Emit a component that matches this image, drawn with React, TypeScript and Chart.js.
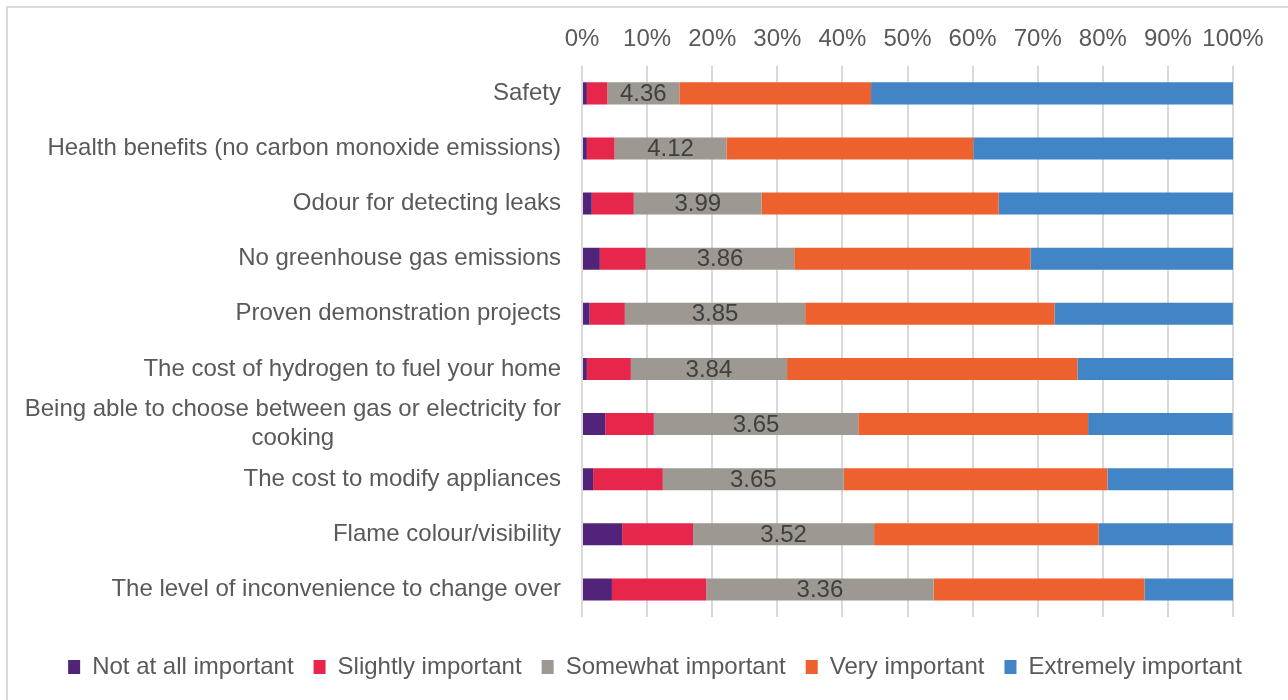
import React, { useEffect, useRef } from "react";
import { Chart, registerables } from "chart.js";

Chart.register(...registerables);

// Survey factors (top to bottom)
const categories: (string | string[])[] = [
  "Safety",
  "Health benefits (no carbon monoxide emissions)",
  "Odour for detecting leaks",
  "No greenhouse gas emissions",
  "Proven demonstration projects",
  "The cost of hydrogen to fuel your home",
  ["Being able to choose between gas or electricity for", "cooking"],
  "The cost to modify appliances",
  "Flame colour/visibility",
  "The level of inconvenience to change over",
];

// Share of respondents (%) per importance rating
const notAtAll = [0.75, 0.75, 1.5, 2.74, 1.17, 0.75, 3.57, 1.71, 6.17, 4.6];
const slightly = [3.15, 4.25, 6.46, 7.06, 5.41, 6.75, 7.47, 10.7, 10.9, 14.5];
const somewhat = [11.05, 17.2, 19.64, 22.8, 27.7, 24.0, 31.4, 27.8, 27.8, 34.9];
const very = [29.45, 37.9, 36.4, 36.3, 38.3, 44.6, 35.3, 40.5, 34.5, 32.4];
const extremely = [55.6, 39.9, 36.0, 31.1, 27.4, 23.9, 22.2, 19.3, 20.6, 13.6];

// Mean importance score (1-5) shown on the "Somewhat important" segment
const meanScores = [4.36, 4.12, 3.99, 3.86, 3.85, 3.84, 3.65, 3.65, 3.52, 3.36];

const seriesNames = [
  "Not at all important",
  "Slightly important",
  "Somewhat important",
  "Very important",
  "Extremely important",
];
const seriesColors = ["#522479", "#E6264A", "#9D9891", "#EC612D", "#4185C6"];
const seriesValues = [notAtAll, slightly, somewhat, very, extremely];

const xTicks = [0, 10, 20, 30, 40, 50, 60, 70, 80, 90, 100];

const FONT = "'Liberation Sans', Arial, sans-serif";
const TEXT = "#595959";

// Category labels drawn right-aligned beside the bars; wrapped lines are centred on the widest line
const categoryLabelPlugin = {
  id: "categoryLabels",
  afterDraw(chart: any) {
    const { ctx, chartArea } = chart;
    const yScale = chart.scales.y;
    const right = chartArea.left - 21;
    const lineH = 29;
    ctx.save();
    ctx.font = `24px ${FONT}`;
    ctx.fillStyle = TEXT;
    ctx.textBaseline = "middle";
    categories.forEach((label, i) => {
      const y = yScale.getPixelForValue(i);
      const lines = Array.isArray(label) ? label : [label];
      if (lines.length === 1) {
        ctx.textAlign = "right";
        ctx.fillText(lines[0], right, y);
      } else {
        const widest = Math.max(...lines.map((l) => ctx.measureText(l).width));
        const cx = right - widest / 2;
        ctx.textAlign = "center";
        const y0 = y - ((lines.length - 1) * lineH) / 2;
        lines.forEach((l, k) => ctx.fillText(l, cx, y0 + k * lineH));
      }
    });
    ctx.restore();
  },
};

// Mean score printed in the middle of the grey segment
const meanLabelPlugin = {
  id: "meanLabels",
  afterDatasetsDraw(chart: any) {
    const { ctx } = chart;
    const meta = chart.getDatasetMeta(2);
    ctx.save();
    ctx.font = `24px ${FONT}`;
    ctx.fillStyle = "#404040";
    ctx.textAlign = "center";
    ctx.textBaseline = "middle";
    meta.data.forEach((bar: any, i: number) => {
      const cx = (bar.x + bar.base) / 2;
      ctx.fillText(meanScores[i].toFixed(2), cx, bar.y + 1);
    });
    ctx.restore();
  },
};

export default function App() {
  const canvasRef = useRef<HTMLCanvasElement | null>(null);

  useEffect(() => {
    if (!canvasRef.current) return;
    Chart.defaults.font.family = FONT;
    const chart = new Chart(canvasRef.current, {
      type: "bar",
      data: {
        labels: categories.map((c) => (Array.isArray(c) ? c.join(" ") : c)),
        datasets: seriesNames.map((name, k) => ({
          label: name,
          data: seriesValues[k],
          backgroundColor: seriesColors[k],
          borderWidth: 0,
          barPercentage: 0.8,
          categoryPercentage: 0.5,
        })),
      },
      options: {
        indexAxis: "y",
        animation: false,
        responsive: false,
        layout: { padding: { left: 22, right: 0, top: 13, bottom: 11 } },
        scales: {
          x: {
            position: "top",
            stacked: true,
            min: 0,
            max: 100,
            afterBuildTicks: (scale: any) => {
              scale.ticks = xTicks.map((v) => ({ value: v }));
            },
            ticks: {
              color: TEXT,
              font: { size: 24, family: FONT },
              padding: 12,
              maxRotation: 0,
              autoSkip: false,
              callback: (v: any) => `${v}%`,
            },
            grid: { color: "#D9D9D9", lineWidth: 2, drawTicks: false },
            border: { display: false },
          },
          y: {
            stacked: true,
            afterFit: (scale: any) => {
              scale.width = 560;
            },
            ticks: { display: false },
            grid: { display: false, drawTicks: false },
            border: { display: false },
          },
          // empty right-hand margin so the plot ends at 100% while the legend uses full width
          yRight: {
            type: "category",
            position: "right",
            labels: [""],
            afterFit: (scale: any) => {
              scale.width = 55;
            },
            ticks: { display: false },
            grid: { display: false, drawTicks: false },
            border: { display: false },
          },
        },
        plugins: {
          legend: {
            position: "bottom",
            title: { display: true, text: " ", padding: 0, font: { size: 15 } },
            labels: {
              color: TEXT,
              font: { size: 24, family: FONT },
              boxWidth: 12,
              boxHeight: 14,
              padding: 20,
            },
          },
          tooltip: { enabled: false },
        },
      },
      plugins: [categoryLabelPlugin, meanLabelPlugin],
    } as any);
    return () => chart.destroy();
  }, []);

  return (
    <div
      style={{
        position: "fixed",
        left: 0,
        top: 0,
        width: 1288,
        height: 700,
        overflow: "hidden",
        background: "#fff",
      }}
    >
      <div
        style={{
          position: "absolute",
          left: 6,
          top: 6,
          width: 1320,
          height: 730,
          border: "2px solid #D9D9D9",
          boxSizing: "border-box",
        }}
      />
      <canvas
        ref={canvasRef}
        width={1288}
        height={700}
        style={{ position: "absolute", left: 0, top: 0 }}
      />
    </div>
  );
}
